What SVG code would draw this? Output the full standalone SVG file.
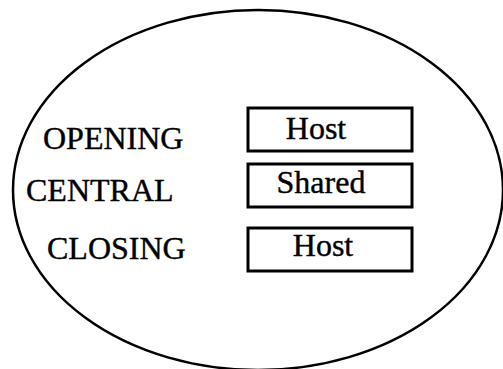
<svg xmlns="http://www.w3.org/2000/svg" width="503" height="369" viewBox="0 0 503 369">
<style>
.t{font-family:"Liberation Serif","Times New Roman",serif;font-size:32px;fill:#000;stroke:#000;stroke-width:0.4}
.b{fill:#fff;stroke:#000;stroke-width:3}
</style>
<rect width="503" height="369" fill="#fff"/>
<ellipse id="outer" cx="258" cy="190" rx="245" ry="180" fill="none" stroke="#000" stroke-width="2.5"/>
<g id="labels">
<text class="t" x="43" y="149">OPENING</text>
<text class="t" x="26" y="201">CENTRAL</text>
<text class="t" x="47" y="259">CLOSING</text>
</g>
<g id="host1"><rect class="b" x="248" y="108" width="164" height="43"/><text class="t" x="316" y="139" text-anchor="middle">Host</text></g>
<g id="shared"><rect class="b" x="248" y="164" width="164" height="43"/><text class="t" x="321" y="193" text-anchor="middle">Shared</text></g>
<g id="host2"><rect class="b" x="248" y="228" width="164" height="43"/><text class="t" x="323" y="256" text-anchor="middle">Host</text></g>
<g id="connectors"/>
</svg>
